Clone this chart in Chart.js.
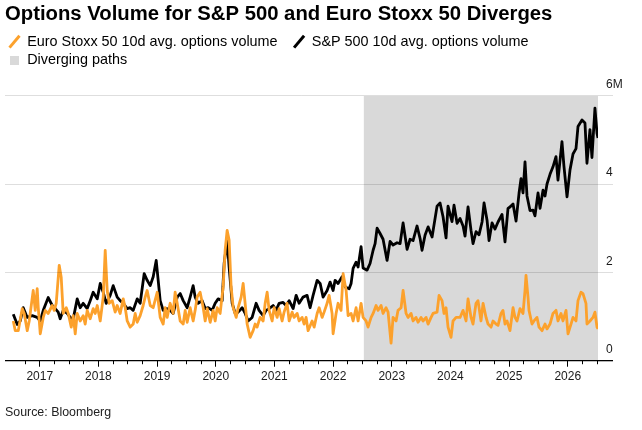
<!DOCTYPE html>
<html>
<head>
<meta charset="utf-8">
<title>Options Volume for S&amp;P 500 and Euro Stoxx 50 Diverges</title>
<script src="https://cdn.jsdelivr.net/npm/chart.js@4.4.1/dist/chart.umd.min.js"></script>
<style>
  html, body { margin: 0; padding: 0; background: #fff; }
  #wrap { width: 642px; height: 430px; }
</style>
</head>
<body>
<div id="wrap"><canvas id="optionsChart" width="642" height="430"></canvas></div>
<script>
// 10d avg. options volume, millions of contracts; dates are decimal years
const sx5eDates = [
  2016.549, 2016.583, 2016.634, 2016.702, 2016.736, 2016.787, 2016.821, 2016.889, 2016.923, 2016.957,
  2016.975, 2017.009, 2017.060, 2017.094, 2017.145, 2017.213, 2017.247, 2017.281, 2017.332, 2017.366,
  2017.400, 2017.452, 2017.486, 2017.537, 2017.571, 2017.605, 2017.639, 2017.690, 2017.741, 2017.775,
  2017.809, 2017.860, 2017.911, 2017.946, 2017.980, 2018.031, 2018.082, 2018.116, 2018.150, 2018.184,
  2018.235, 2018.286, 2018.320, 2018.371, 2018.423, 2018.457, 2018.491, 2018.542, 2018.593, 2018.627,
  2018.661, 2018.712, 2018.763, 2018.797, 2018.831, 2018.883, 2018.934, 2019.002, 2019.053, 2019.104,
  2019.138, 2019.172, 2019.223, 2019.274, 2019.308, 2019.343, 2019.394, 2019.445, 2019.479, 2019.513,
  2019.564, 2019.615, 2019.649, 2019.683, 2019.734, 2019.786, 2019.820, 2019.854, 2019.905, 2019.956,
  2019.990, 2020.024, 2020.075, 2020.126, 2020.160, 2020.194, 2020.228, 2020.262, 2020.297, 2020.348,
  2020.382, 2020.433, 2020.467, 2020.501, 2020.535, 2020.586, 2020.637, 2020.671, 2020.705, 2020.756,
  2020.808, 2020.842, 2020.876, 2020.910, 2020.961, 2020.995, 2021.046, 2021.080, 2021.131, 2021.165,
  2021.216, 2021.251, 2021.302, 2021.336, 2021.387, 2021.421, 2021.472, 2021.506, 2021.540, 2021.574,
  2021.642, 2021.677, 2021.728, 2021.762, 2021.813, 2021.847, 2021.898, 2021.932, 2021.983, 2022.000,
  2022.051, 2022.085, 2022.136, 2022.171, 2022.222, 2022.256, 2022.307, 2022.341, 2022.392, 2022.426,
  2022.477, 2022.511, 2022.562, 2022.596, 2022.648, 2022.682, 2022.733, 2022.767, 2022.818, 2022.852,
  2022.903, 2022.937, 2022.988, 2023.022, 2023.073, 2023.107, 2023.159, 2023.193, 2023.244, 2023.278,
  2023.329, 2023.363, 2023.414, 2023.448, 2023.499, 2023.533, 2023.585, 2023.619, 2023.670, 2023.704,
  2023.772, 2023.806, 2023.857, 2023.891, 2023.925, 2023.959, 2024.010, 2024.044, 2024.096, 2024.164,
  2024.215, 2024.266, 2024.300, 2024.351, 2024.385, 2024.436, 2024.470, 2024.521, 2024.556, 2024.607,
  2024.641, 2024.692, 2024.726, 2024.777, 2024.811, 2024.862, 2024.896, 2024.930, 2024.964, 2025.015,
  2025.067, 2025.101, 2025.135, 2025.186, 2025.237, 2025.271, 2025.288, 2025.322, 2025.339, 2025.390,
  2025.424, 2025.475, 2025.510, 2025.561, 2025.612, 2025.646, 2025.697, 2025.748, 2025.799, 2025.833,
  2025.884, 2025.918, 2025.970, 2026.004, 2026.055, 2026.089, 2026.140, 2026.174, 2026.225, 2026.259,
  2026.310, 2026.327, 2026.378, 2026.430, 2026.463, 2026.498, 2026.515
];
const sx5eVolume = [
  0.90, 0.68, 0.68, 1.18, 1.07, 0.68, 0.90, 1.59, 1.14, 1.63,
  1.20, 0.61, 0.98, 1.14, 1.07, 1.25, 1.14, 1.30, 2.16, 1.89,
  1.07, 1.20, 1.07, 0.76, 1.02, 0.61, 1.07, 0.90, 1.02, 0.83,
  1.14, 0.95, 1.18, 1.07, 1.25, 0.90, 1.44, 2.50, 1.59, 1.30,
  1.36, 1.10, 1.25, 1.07, 1.40, 1.20, 0.90, 0.76, 0.83, 1.07,
  0.87, 1.02, 1.25, 1.44, 1.59, 1.25, 1.20, 1.55, 0.98, 0.83,
  1.20, 0.98, 1.30, 1.07, 1.55, 1.30, 0.90, 0.83, 1.14, 0.87,
  1.20, 0.90, 1.14, 1.44, 1.55, 1.20, 0.90, 1.18, 0.87, 1.14,
  0.90, 1.20, 1.07, 1.67, 2.50, 2.95, 2.73, 1.67, 1.20, 0.98,
  1.20, 1.44, 1.75, 1.30, 0.83, 0.53, 0.68, 0.83, 0.76, 0.98,
  0.90, 1.30, 1.55, 1.14, 0.90, 1.20, 0.98, 1.18, 0.90, 1.10,
  1.30, 0.90, 1.10, 0.98, 1.07, 0.90, 0.98, 0.83, 0.98, 0.68,
  0.90, 0.76, 1.07, 1.20, 0.98, 1.10, 1.30, 1.48, 1.07, 0.61,
  1.07, 1.30, 1.14, 1.97, 1.59, 1.02, 1.07, 0.90, 1.20, 0.90,
  1.30, 0.98, 0.90, 0.76, 0.98, 1.07, 1.25, 1.14, 1.25, 1.07,
  1.20, 1.10, 0.40, 0.98, 0.90, 1.14, 1.20, 1.59, 1.07, 0.98,
  1.07, 0.90, 0.98, 0.87, 0.98, 0.90, 0.98, 0.83, 0.98, 1.07,
  1.10, 1.48, 1.36, 1.07, 1.20, 0.76, 0.53, 0.90, 0.98, 0.98,
  1.14, 0.90, 1.40, 0.98, 0.83, 1.30, 1.36, 0.90, 1.30, 0.98,
  0.83, 0.76, 0.90, 0.83, 0.80, 1.07, 1.14, 0.83, 0.90, 0.68,
  1.20, 0.98, 0.90, 1.18, 1.07, 1.59, 1.93, 1.44, 1.14, 0.83,
  0.90, 0.98, 0.76, 0.68, 0.83, 0.72, 0.83, 1.07, 1.14, 0.90,
  1.07, 0.90, 1.14, 0.61, 0.83, 0.98, 0.90, 1.36, 1.55, 1.52,
  1.30, 0.83, 0.90, 0.98, 1.10, 0.76, 0.72
];
const spxDates = [
  2016.549, 2016.617, 2016.668, 2016.719, 2016.787, 2016.872, 2016.957, 2017.009, 2017.060, 2017.145,
  2017.213, 2017.264, 2017.315, 2017.349, 2017.400, 2017.469, 2017.520, 2017.571, 2017.639, 2017.690,
  2017.741, 2017.809, 2017.860, 2017.911, 2017.980, 2018.031, 2018.082, 2018.133, 2018.201, 2018.252,
  2018.320, 2018.371, 2018.423, 2018.491, 2018.542, 2018.593, 2018.661, 2018.712, 2018.780, 2018.831,
  2018.883, 2018.934, 2018.985, 2019.019, 2019.053, 2019.104, 2019.172, 2019.223, 2019.274, 2019.343,
  2019.394, 2019.445, 2019.513, 2019.564, 2019.615, 2019.649, 2019.700, 2019.768, 2019.820, 2019.871,
  2019.939, 2019.990, 2020.041, 2020.109, 2020.143, 2020.194, 2020.228, 2020.280, 2020.331, 2020.382,
  2020.450, 2020.501, 2020.552, 2020.620, 2020.688, 2020.739, 2020.808, 2020.859, 2020.910, 2020.978,
  2021.029, 2021.080, 2021.148, 2021.199, 2021.251, 2021.319, 2021.370, 2021.421, 2021.489, 2021.557,
  2021.608, 2021.659, 2021.728, 2021.779, 2021.830, 2021.898, 2021.949, 2022.000, 2022.034, 2022.085,
  2022.153, 2022.205, 2022.273, 2022.307, 2022.341, 2022.392, 2022.426, 2022.477, 2022.511, 2022.579,
  2022.630, 2022.682, 2022.716, 2022.750, 2022.801, 2022.852, 2022.920, 2022.971, 2023.022, 2023.090,
  2023.142, 2023.193, 2023.261, 2023.312, 2023.363, 2023.431, 2023.482, 2023.516, 2023.567, 2023.619,
  2023.687, 2023.772, 2023.823, 2023.874, 2023.925, 2023.959, 2024.027, 2024.061, 2024.113, 2024.164,
  2024.215, 2024.249, 2024.300, 2024.351, 2024.385, 2024.436, 2024.487, 2024.539, 2024.573, 2024.624,
  2024.658, 2024.709, 2024.760, 2024.811, 2024.879, 2024.930, 2024.981, 2025.015, 2025.067, 2025.118,
  2025.169, 2025.203, 2025.237, 2025.271, 2025.305, 2025.356, 2025.407, 2025.441, 2025.493, 2025.527,
  2025.578, 2025.612, 2025.646, 2025.697, 2025.748, 2025.799, 2025.833, 2025.901, 2025.935, 2025.987,
  2026.038, 2026.089, 2026.140, 2026.174, 2026.242, 2026.293, 2026.327, 2026.378, 2026.412, 2026.463,
  2026.498, 2026.515
];
const spxVolume = [
  1.05, 0.82, 0.90, 1.20, 0.98, 1.02, 0.98, 0.90, 1.14, 1.43,
  1.25, 1.18, 1.10, 0.95, 1.14, 1.07, 0.98, 0.95, 1.40, 1.20,
  1.30, 1.18, 1.36, 1.55, 1.40, 1.75, 1.55, 1.30, 1.48, 1.70,
  1.44, 1.36, 1.30, 1.18, 1.20, 1.14, 1.40, 1.30, 1.97, 1.82,
  1.70, 1.90, 2.27, 1.82, 1.36, 1.14, 1.18, 1.14, 1.07, 1.44,
  1.52, 1.36, 1.20, 1.44, 1.70, 1.44, 1.30, 1.36, 1.18, 1.20,
  1.14, 1.30, 1.40, 1.36, 2.20, 2.73, 2.12, 1.30, 1.07, 1.10,
  1.20, 1.07, 0.90, 0.98, 1.30, 1.14, 1.02, 1.14, 1.18, 1.25,
  1.14, 1.30, 1.32, 1.25, 1.36, 1.18, 1.48, 1.30, 1.44, 1.48,
  1.20, 1.48, 1.82, 1.75, 1.44, 1.59, 1.78, 1.59, 1.82, 1.75,
  1.90, 1.67, 1.63, 1.75, 2.09, 2.23, 2.12, 2.58, 2.10, 2.05,
  2.20, 2.50, 2.65, 3.00, 2.88, 2.75, 2.27, 2.70, 2.62, 2.67,
  2.65, 3.12, 2.52, 2.75, 2.72, 3.05, 2.77, 2.50, 2.84, 3.03,
  2.80, 3.50, 3.57, 3.26, 2.78, 3.50, 3.15, 3.52, 3.11, 3.22,
  3.05, 2.82, 3.48, 2.95, 2.65, 2.92, 2.85, 3.14, 3.57, 3.18,
  2.72, 3.12, 2.98, 3.14, 3.31, 2.69, 3.45, 3.48, 3.55, 3.16,
  3.79, 4.12, 3.80, 4.50, 3.73, 3.40, 3.41, 3.28, 3.80, 3.45,
  3.86, 3.73, 4.00, 4.22, 4.39, 4.62, 4.09, 4.96, 4.40, 3.71,
  4.32, 4.68, 4.80, 5.30, 5.45, 5.38, 4.47, 5.23, 4.60, 5.72,
  5.15, 5.04
];
// shaded "Diverging paths" span
const divergeDates = [2022.52, 2026.515];
const divergeTop = [6, 6];

const yearTicks = [2017, 2018, 2019, 2020, 2021, 2022, 2023, 2024, 2025, 2026];
const yearLabels = ['2017', '2018', '2019', '2020', '2021', '2022', '2023', '2024', '2025', '2026'];
const volumeTicks = [0, 2, 4, 6];
const volumeLabels = ['0', '2', '4', '6M'];

const X_MIN = 2016.408;
const X_MAX = 2026.515;
const ORANGE = '#fca12c';
const FONT = "'Liberation Sans', Arial, Helvetica, sans-serif";

let quarterTicks = [];
for (let q = 2016.75; q <= 2026.5; q += 0.25) quarterTicks.push({value: Math.round(q * 100) / 100});

function pairs(xs, ys) {
    return xs.map((x, i) => ({x: x, y: ys[i]}));
}

// small grey square for the legend
const swatch = document.createElement('canvas');
swatch.width = 9;
swatch.height = 9;
const sctx = swatch.getContext('2d');
sctx.fillStyle = '#d9d9d9';
sctx.fillRect(0, 0, 9, 9);

Chart.defaults.font.family = FONT;
Chart.defaults.color = '#1a1a1a';

window.onload = function() {
    const ctx = document.getElementById('optionsChart').getContext('2d');
    new Chart(ctx, {
        type: 'line',
        data: {
            datasets: [{
                label: 'Euro Stoxx 50 10d avg. options volume',
                data: pairs(sx5eDates, sx5eVolume),
                borderColor: ORANGE,
                borderWidth: 2.8,
                pointRadius: 0,
                tension: 0,
                borderJoinStyle: 'round',
                fill: false,
                order: 0
            }, {
                label: 'S&P 500 10d avg. options volume',
                data: pairs(spxDates, spxVolume),
                borderColor: '#000',
                borderWidth: 2.8,
                pointRadius: 0,
                tension: 0,
                borderJoinStyle: 'round',
                fill: false,
                order: 1
            }, {
                label: 'Diverging paths',
                data: pairs(divergeDates, divergeTop),
                borderWidth: 0,
                borderColor: 'rgba(0,0,0,0)',
                backgroundColor: '#d9d9d9',
                pointRadius: 0,
                fill: 'origin',
                order: 2
            }]
        },
        options: {
            responsive: false,
            animation: false,
            events: [],
            layout: { padding: { left: 5, right: 14, top: 0, bottom: 0 } },
            plugins: {
                title: {
                    display: true,
                    text: 'Options Volume for S&P 500 and Euro Stoxx 50 Diverges',
                    align: 'start',
                    color: '#000',
                    font: { family: FONT, size: 20.3, weight: 'bold' },
                    padding: { top: 2.5, bottom: 3.6 }
                },
                legend: {
                    display: true,
                    position: 'top',
                    align: 'start',
                    labels: {
                        color: '#000',
                        font: { family: FONT, size: 14.4 },
                        usePointStyle: true,
                        boxWidth: 11,
                        boxHeight: 11,
                        padding: 4,
                        generateLabels: function() {
                            return [{
                                text: 'Euro Stoxx 50 10d avg. options volume   ',
                                pointStyle: 'line', rotation: -50,
                                strokeStyle: ORANGE, fillStyle: ORANGE,
                                lineWidth: 3, lineCap: 'butt', hidden: false, datasetIndex: 0
                            }, {
                                text: 'S&P 500 10d avg. options volume',
                                pointStyle: 'line', rotation: -50,
                                strokeStyle: '#000', fillStyle: '#000',
                                lineWidth: 3, lineCap: 'butt', hidden: false, datasetIndex: 1
                            }, {
                                text: 'Diverging paths',
                                pointStyle: swatch, rotation: 0,
                                strokeStyle: '#d9d9d9', fillStyle: '#d9d9d9',
                                lineWidth: 0, hidden: false, datasetIndex: 2
                            }];
                        }
                    }
                },
                subtitle: {
                    display: true,
                    position: 'bottom',
                    align: 'start',
                    text: 'Source: Bloomberg',
                    color: '#222',
                    font: { family: FONT, size: 12.4 },
                    padding: { top: 21.2, bottom: 10.2 }
                },
                tooltip: { enabled: false }
            },
            scales: {
                x: {
                    type: 'linear',
                    position: 'bottom',
                    weight: 1,
                    min: X_MIN,
                    max: X_MAX,
                    afterBuildTicks: function(scale) {
                        scale.ticks = yearTicks.map(v => ({value: v}));
                    },
                    afterFit: function(scale) { scale.height = 23; },
                    ticks: {
                        autoSkip: false,
                        maxRotation: 0,
                        padding: 2.6,
                        color: '#1a1a1a',
                        font: { family: FONT, size: 12 },
                        callback: function(value, index) { return yearLabels[index]; }
                    },
                    grid: {
                        drawOnChartArea: false,
                        drawTicks: true,
                        tickLength: 6,
                        tickColor: '#000',
                        tickWidth: 1
                    },
                    border: { display: false }
                },
                xMinor: {
                    type: 'linear',
                    position: 'bottom',
                    weight: 0,
                    min: X_MIN,
                    max: X_MAX,
                    afterBuildTicks: function(scale) { scale.ticks = quarterTicks.slice(); },
                    afterFit: function(scale) { scale.height = 0; },
                    ticks: { display: false },
                    grid: {
                        drawOnChartArea: false,
                        drawTicks: true,
                        tickLength: 3.5,
                        tickColor: '#000',
                        tickWidth: 1
                    },
                    border: { display: false }
                },
                xTop: {
                    type: 'linear',
                    position: 'top',
                    min: X_MIN,
                    max: X_MAX,
                    afterFit: function(scale) { scale.height = 18.4; },
                    ticks: { display: false },
                    grid: { display: false },
                    border: { display: false }
                },
                y: {
                    type: 'linear',
                    position: 'right',
                    min: 0,
                    max: 6,
                    afterBuildTicks: function(scale) {
                        scale.ticks = volumeTicks.map(v => ({value: v}));
                    },
                    afterFit: function(scale) { scale.width = 30; },
                    ticks: {
                        crossAlign: 'near',
                        padding: -7,
                        labelOffset: -11,
                        color: '#1a1a1a',
                        font: { family: FONT, size: 12 },
                        callback: function(value, index) { return volumeLabels[index]; }
                    },
                    grid: {
                        z: 1,
                        drawTicks: true,
                        tickLength: 15,
                        color: c => (c.tick && c.tick.value === 0) ? '#000' : 'rgba(0,0,0,0.13)',
                        tickColor: c => (c.tick && c.tick.value === 0) ? '#000' : 'rgba(0,0,0,0.13)',
                        lineWidth: c => (c.tick && c.tick.value === 0) ? 1.3 : 1,
                        tickWidth: c => (c.tick && c.tick.value === 0) ? 1.3 : 1
                    },
                    border: { display: false }
                }
            }
        }
    });
};
</script>
</body>
</html>
